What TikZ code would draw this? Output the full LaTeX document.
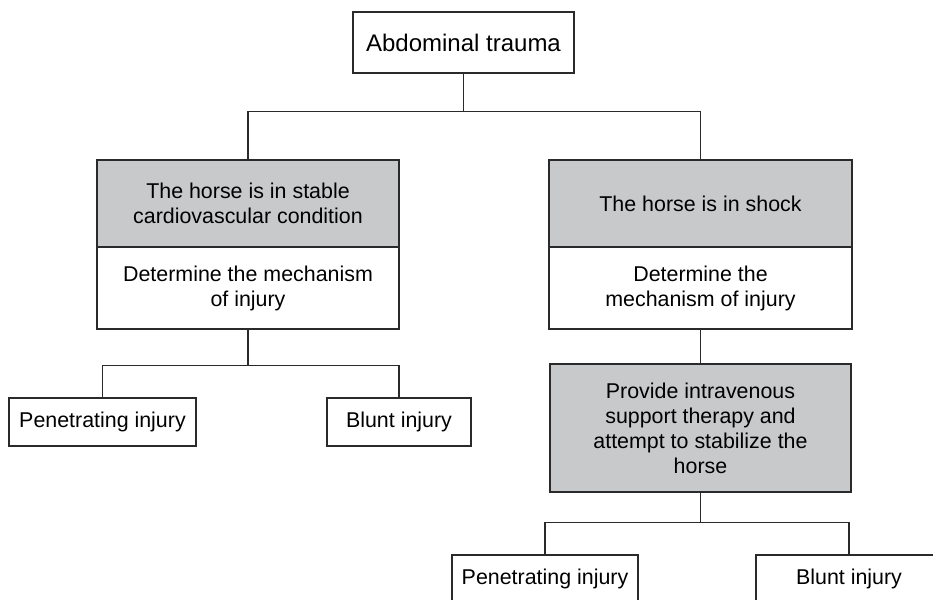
\documentclass[tikz,border=0pt]{standalone}
\usepackage{fontspec}
\setmainfont{Liberation Sans}
\usepackage{tikz}
\definecolor{boxgray}{HTML}{C8C9CB}
\definecolor{boxline}{HTML}{2A2A2A}
\tikzset{
  box/.style={draw=boxline, line width=1.2pt, fill=white, inner sep=0pt,
              align=center, font=\fontsize{21.4}{25}\selectfont},
  shadebox/.style={box, fill=boxgray},
  link/.style={draw=boxline, line width=1.1pt},
}

\begin{document}
\begin{tikzpicture}[x=1pt, y=-1pt]
    \path[use as bounding box, clip] (0,0) rectangle (933,599);
    \node[box, minimum width=221, minimum height=61, font=\fontsize{24}{28}\selectfont] (trauma) at (463.5, 42.5) {Abdominal trauma};
    \node[shadebox, minimum width=302, minimum height=87] (stable) at (248, 203.5) {The horse is in stable\\cardiovascular condition};
    \node[box, minimum width=302, minimum height=82] (mechl) at (248, 288) {Determine the mechanism\\of injury};
    \node[box, minimum width=187, minimum height=48] (penl) at (102.5, 422) {Penetrating injury};
    \node[box, minimum width=144, minimum height=48] (bluntl) at (399, 422) {Blunt injury};
    \node[shadebox, minimum width=303, minimum height=87] (shock) at (700.5, 203.5) {The horse is in shock};
    \node[box, minimum width=303, minimum height=82] (mechr) at (700.5, 288) {Determine the\\mechanism of injury};
    \node[shadebox, minimum width=301, minimum height=128] (ivt) at (700.5, 428) {Provide intravenous\\support therapy and\\attempt to stabilize the\\horse};
    \node[box, minimum width=186, minimum height=48] (penr) at (545, 579) {Penetrating injury};
    \node[box, minimum width=186, minimum height=48] (bluntr) at (849, 579) {Blunt injury};
    \draw[link] (trauma.south) -- ++(0,38) -| (stable.north);
    \draw[link] (trauma.south) -- ++(0,38) -| (shock.north);
    \draw[link] (mechl.south) -- ++(0,36) -| (penl.north);
    \draw[link] (mechl.south) -- ++(0,36) -| (bluntl.north);
    \draw[link] (mechr.south) -- (ivt.north);
    \draw[link] (ivt.south) -- ++(0,30) -| (penr.north);
    \draw[link] (ivt.south) -- ++(0,30) -| (bluntr.north);
  \end{tikzpicture}
\end{document}
